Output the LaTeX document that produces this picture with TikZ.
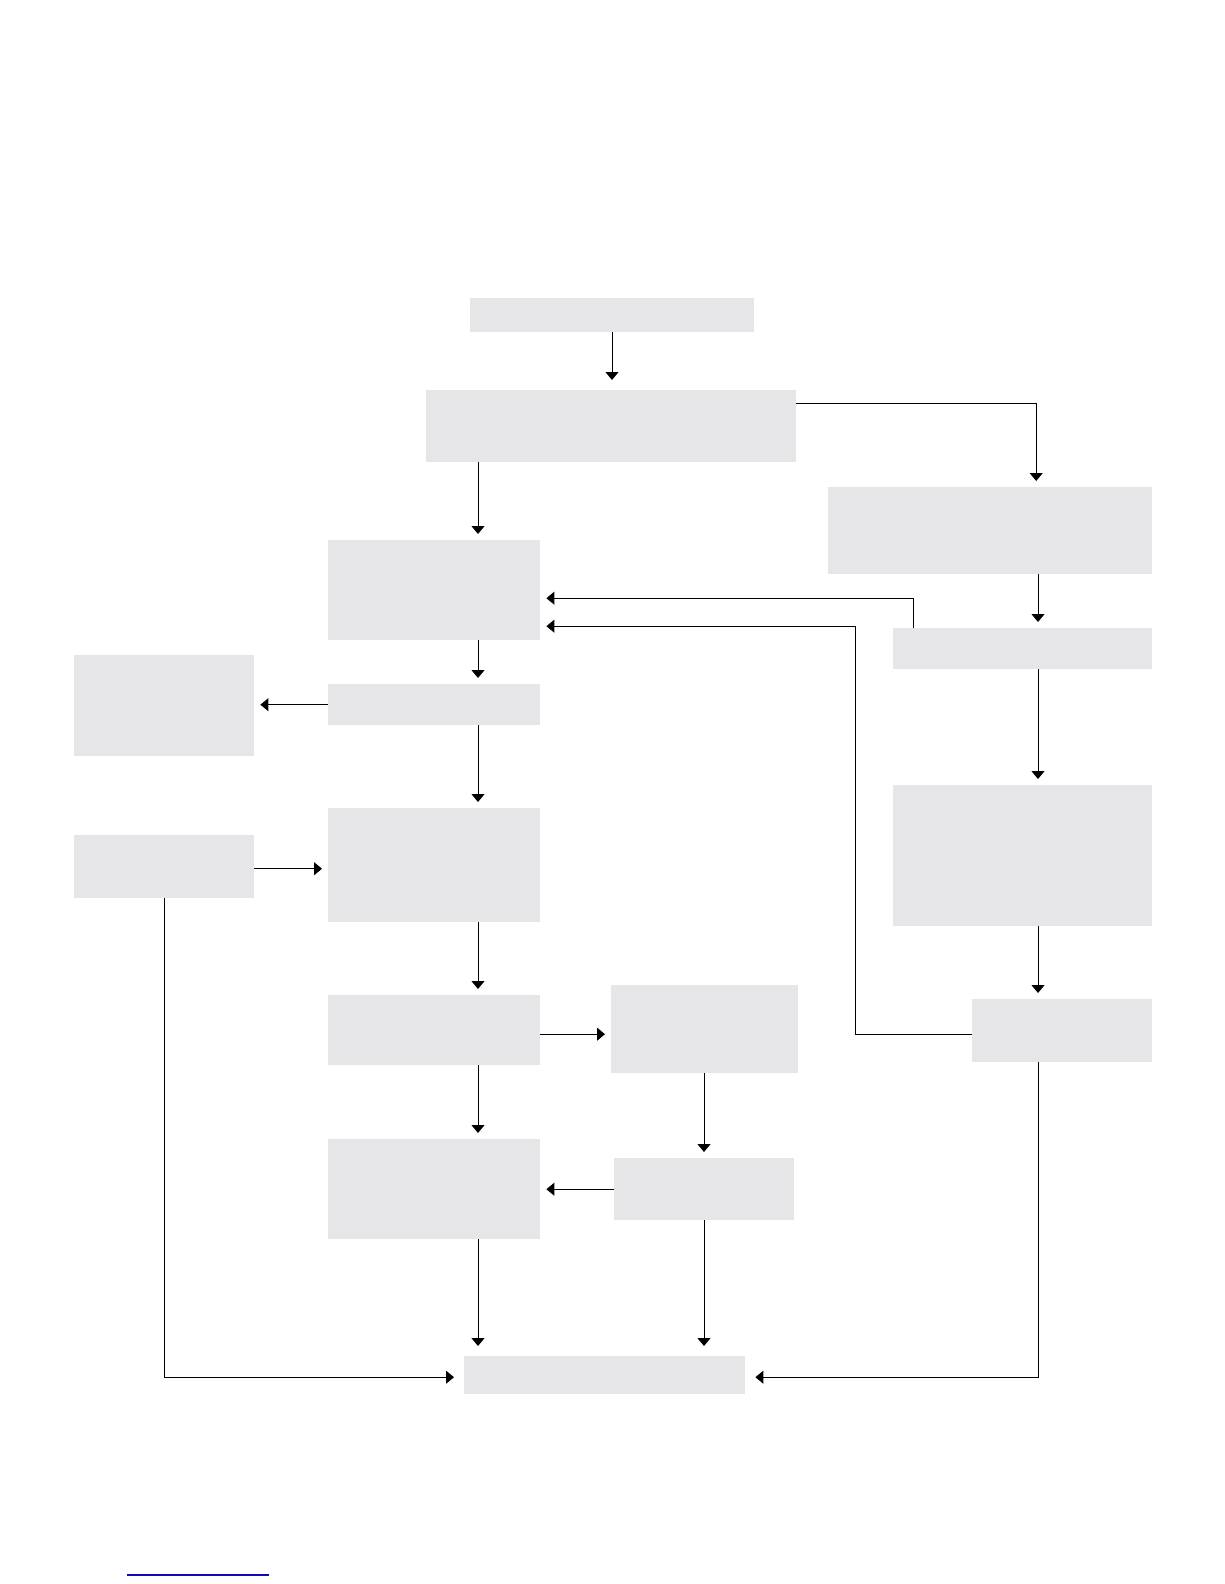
\documentclass[tikz,border=0pt]{standalone}
\usepackage{tikz}
\usetikzlibrary{arrows.meta, calc}
\usepackage{xcolor}
\definecolor{boxgray}{RGB}{230,230,232}
\definecolor{linkblue}{RGB}{10,10,190}

\begin{document}
\begin{tikzpicture}[x = 1pt, y = -1pt,
    box/.style = {fill = boxgray, draw = none, inner sep = 0pt, anchor = north west},
    arr/.style = {line width = 1pt, -{Triangle[length = 8pt, width = 13pt]}, shorten > = 6pt},
    arrlong/.style = {arr, shorten > = 10pt}]
    \useasboundingbox (0,0) rectangle (1224,1584);
    % columns of the connectors
    \coordinate (cT) at (612,0);
    \coordinate (cA) at (478,0);
    \coordinate (cD) at (704,0);
    \coordinate (cR) at (1038,0);
    \coordinate (fb) at (855,0);
    % boxes
    \node[box, minimum width = 284pt, minimum height = 34pt]  (top)  at (470,298)  {};
    \node[box, minimum width = 370pt, minimum height = 72pt]  (pre)  at (426,390)  {};
    \node[box, minimum width = 324pt, minimum height = 87pt]  (rtop) at (828,487)  {};
    \node[box, minimum width = 212pt, minimum height = 100pt] (aa)   at (328,540)  {};
    \node[box, minimum width = 259pt, minimum height = 41pt]  (rsm)  at (893,628)  {};
    \node[box, minimum width = 180pt, minimum height = 101pt] (lft1) at (74,655)   {};
    \node[box, minimum width = 212pt, minimum height = 41pt]  (mid)  at (328,684)  {};
    \node[box, minimum width = 212pt, minimum height = 114pt] (big)  at (328,808)  {};
    \node[box, minimum width = 180pt, minimum height = 63pt]  (lft2) at (74,835)   {};
    \node[box, minimum width = 259pt, minimum height = 141pt] (rbig) at (893,785)  {};
    \node[box, minimum width = 212pt, minimum height = 70pt]  (cc)   at (328,995)  {};
    \node[box, minimum width = 187pt, minimum height = 88pt]  (dd)   at (611,985)  {};
    \node[box, minimum width = 180pt, minimum height = 63pt]  (rr)   at (972,999)  {};
    \node[box, minimum width = 212pt, minimum height = 100pt] (ff)   at (328,1139) {};
    \node[box, minimum width = 180pt, minimum height = 62pt]  (ee)   at (614,1158) {};
    \node[box, minimum width = 281pt, minimum height = 38pt]  (end)  at (464,1356) {};
    % connectors
    \draw[arrlong] (top.south -| cT) -- (pre.north -| cT);
    \draw[arr] ([yshift = -13pt]pre.north east) -| ([xshift = 46pt]rtop.north);
    \draw[arr] (pre.south -| cA) -- (aa.north -| cA);
    \draw[arr] (rtop.south -| cR) -- (rsm.north -| cR);
    \draw[arr] ([xshift = 20pt]rsm.north west) |- ([yshift = -8pt]aa.east);
    \draw[arr] ([yshift = -4pt]rr.west) -- ([yshift = -4pt]rr.west -| fb) |- ([yshift = -36pt]aa.east);
    \draw[arr] (aa.south -| cA) -- (mid.north -| cA);
    \draw[arr] (mid.west) -- (lft1.east |- mid.west);
    \draw[arr] (mid.south -| cA) -- (big.north -| cA);
    \draw[arr] ([yshift = -2pt]lft2.east) -- ([yshift = -2pt]big.west |- lft2.east);
    \draw[arr] (big.south -| cA) -- (cc.north -| cA);
    \draw[arr] ([yshift = -4pt]cc.east) -- ([yshift = -4pt]dd.west |- cc.east);
    \draw[arr] (cc.south -| cA) -- (ff.north -| cA);
    \draw[arr] (dd.south -| cD) -- (ee.north -| cD);
    \draw[arr] (ee.west) -- (ff.east |- ee.west);
    \draw[arrlong] (ff.south -| cA) -- (end.north -| cA);
    \draw[arrlong] (ee.south -| cD) -- (end.north -| cD);
    \draw[arrlong] (lft2.south) |- ([yshift = -2pt]end.west);
    \draw[arrlong] (rr.south -| cR) |- ([yshift = -2pt]end.east);
    \draw[arr] (rsm.south -| cR) -- (rbig.north -| cR);
    \draw[arr] (rbig.south -| cR) -- (rr.north -| cR);
    % link line at the foot of the page
    \draw[linkblue, line width = 1.2pt] (127,1575) -- (269,1575);
\end{tikzpicture}
\end{document}
